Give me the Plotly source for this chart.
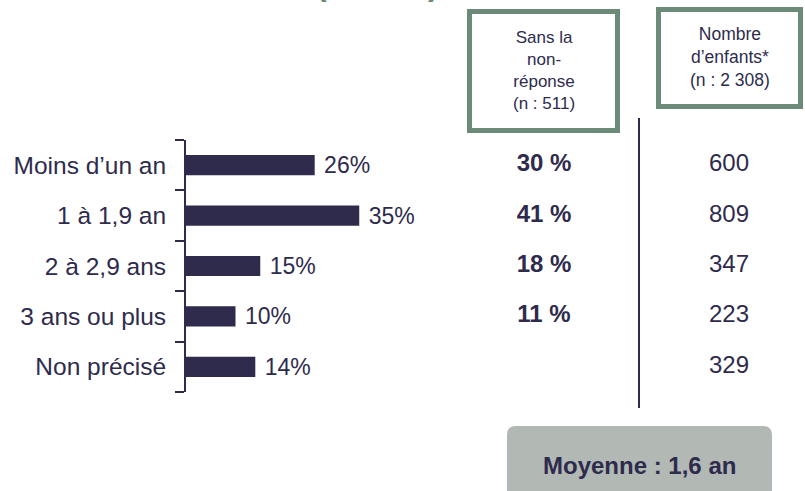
import plotly.graph_objects as go

categories = ["Moins d’un an", "1 à 1,9 an", "2 à 2,9 ans", "3 ans ou plus", "Non précisé"]
pct_values = [26, 35, 15, 10, 14]
pct_without_nr = [30, 41, 18, 11, None]
nb_children = [600, 809, 347, 223, 329]
col1_header = "Sans la<br>non-<br>réponse<br>(n : 511)"
col2_header = "Nombre<br>d’enfants*<br>(n : 2 308)"
mean_label = "Moyenne : 1,6 an"
title_text = "(n : 594)"

W, H = 805, 491
NAVY = "#2e2b4d"
GREEN = "#6b8b78"
GREY = "#b2b9b5"
FONT = "Liberation Sans, Arial, sans-serif"

def px(x):
    return x / W

def py(y):
    return 1 - y / H

pos = list(range(len(categories)))
boundaries = [i - 0.5 for i in range(len(categories) + 1)]

fig = go.Figure()

fig.add_trace(go.Bar(
    y=pos, x=pct_values, orientation="h",
    marker=dict(color=NAVY, line=dict(width=0)),
    text=[f" {v}%" for v in pct_values], textposition="outside",
    constraintext="none",
    textfont=dict(family=FONT, size=23, color=NAVY),
    cliponaxis=False, hoverinfo="skip", width=0.4,
))

fig.add_trace(go.Scatter(
    x=[544] * len(categories), y=pos, xaxis="x2", yaxis="y",
    mode="text",
    text=[f"<b>{v} %</b>" if v is not None else "" for v in pct_without_nr],
    textfont=dict(family=FONT, size=24, color=NAVY),
    cliponaxis=False, hoverinfo="skip",
))

fig.add_trace(go.Scatter(
    x=[729] * len(categories), y=pos, xaxis="x2", yaxis="y",
    mode="text",
    text=[str(v) for v in nb_children],
    textfont=dict(family=FONT, size=24, color=NAVY),
    cliponaxis=False, hoverinfo="skip",
))

shapes = [
    dict(type="rect", xref="paper", yref="paper",
         x0=px(469.5), x1=px(617.5), y0=py(11.5), y1=py(130.5),
         line=dict(color=GREEN, width=5), fillcolor="rgba(0,0,0,0)"),
    dict(type="rect", xref="paper", yref="paper",
         x0=px(658.5), x1=px(800.5), y0=py(9.5), y1=py(106.5),
         line=dict(color=GREEN, width=5), fillcolor="rgba(0,0,0,0)"),
    dict(type="line", xref="paper", yref="paper",
         x0=px(639), x1=px(639), y0=py(118), y1=py(408),
         line=dict(color=NAVY, width=2)),
]
# rounded grey box (bottom cut by page)
x0, x1, y0, y1, r = 507, 772, 426, 510, 9
path = (f"M {px(x0+r)},{py(y0)} L {px(x1-r)},{py(y0)} Q {px(x1)},{py(y0)} {px(x1)},{py(y0+r)} "
        f"L {px(x1)},{py(y1)} L {px(x0)},{py(y1)} L {px(x0)},{py(y0+r)} Q {px(x0)},{py(y0)} {px(x0+r)},{py(y0)} Z")
shapes.append(dict(type="path", xref="paper", yref="paper", path=path,
                   fillcolor=GREY, line=dict(width=0), layer="below"))

annotations = [
    dict(xref="paper", yref="paper", x=px(544), y=py(70), text=col1_header,
         showarrow=False, font=dict(family=FONT, size=17, color=NAVY),
         xanchor="center", yanchor="middle", align="center"),
    dict(xref="paper", yref="paper", x=px(730), y=py(57), text=col2_header,
         showarrow=False, font=dict(family=FONT, size=17.5, color=NAVY),
         xanchor="center", yanchor="middle", align="center"),
    dict(xref="paper", yref="paper", x=px(639), y=py(465), text=f"<b>{mean_label}</b>",
         showarrow=False, font=dict(family=FONT, size=24, color=NAVY),
         xanchor="center", yanchor="middle"),
    dict(xref="paper", yref="paper", x=px(377), y=py(-16), text=f"<b>{title_text}</b>",
         showarrow=False, font=dict(family=FONT, size=32, color=GREEN),
         xanchor="center", yanchor="middle"),
]

fig.update_layout(
    width=W, height=H, margin=dict(l=0, r=0, t=0, b=0, autoexpand=False),
    paper_bgcolor="white", plot_bgcolor="rgba(0,0,0,0)",
    showlegend=False, bargap=0.6,
    shapes=shapes, annotations=annotations,
    xaxis=dict(domain=[px(186), px(681)], range=[0, 100], visible=False, fixedrange=True),
    xaxis2=dict(domain=[0, 1], range=[0, W], visible=False, anchor="y"),
    yaxis=dict(domain=[py(392), py(140)], range=[4.5, -0.5],
               tickmode="array", tickvals=pos, ticktext=categories,
               showline=True, linecolor=NAVY, linewidth=2,
               ticks="", ticklabelstandoff=13,
               minor=dict(tickmode="array", tickvals=boundaries, ticks="outside",
                          ticklen=9, tickwidth=2, tickcolor=NAVY, showgrid=False),
               showgrid=False, zeroline=False, automargin=False,
               tickfont=dict(family=FONT, size=24.5, color=NAVY)),
)

fig.write_html("out.html", config={"displayModeBar": False},
               post_script="document.body.style.margin='0';document.body.style.padding='0';")
